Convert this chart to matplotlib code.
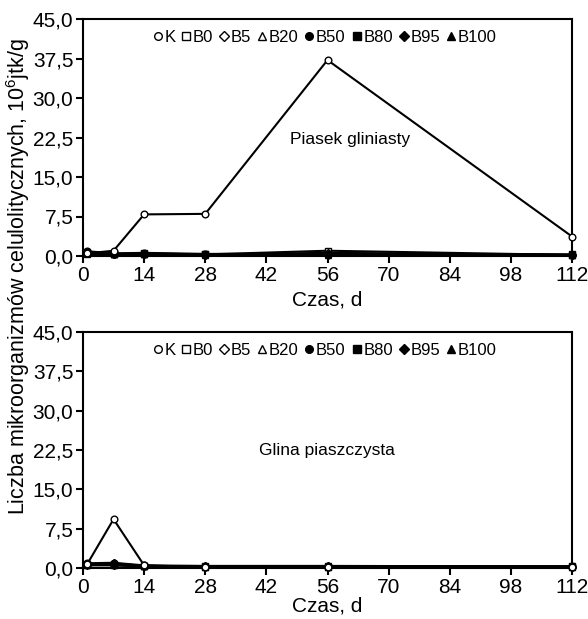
import matplotlib
matplotlib.use("Agg")
import matplotlib.pyplot as plt
from matplotlib.ticker import FuncFormatter

plt.rcParams['font.family'] = ['Liberation Sans', 'DejaVu Sans']
plt.rcParams['mathtext.fontset'] = 'custom'
plt.rcParams['mathtext.rm'] = 'Liberation Sans'

days = [1, 7, 14, 28, 56, 112]
series_names = ["K", "B0", "B5", "B20", "B50", "B80", "B95", "B100"]
markers = ["o", "s", "D", "^", "o", "s", "D", "^"]
filled = [False, False, False, False, True, True, True, True]

top_values = {
    "K":    [0.5, 1.0, 7.9, 8.0, 37.2, 3.7],
    "B0":   [0.4, 0.3, 0.4, 0.3, 1.0, 0.2],
    "B5":   [0.5, 0.3, 0.3, 0.2, 0.6, 0.2],
    "B20":  [0.6, 0.4, 0.4, 0.3, 0.5, 0.2],
    "B50":  [0.9, 0.5, 0.6, 0.4, 0.4, 0.2],
    "B80":  [0.7, 0.4, 0.5, 0.3, 0.3, 0.3],
    "B95":  [0.6, 0.3, 0.4, 0.2, 0.2, 0.2],
    "B100": [0.5, 0.3, 0.3, 0.2, 0.2, 0.2],
}
bottom_values = {
    "K":    [0.8, 9.3, 0.5, 0.2, 0.2, 0.2],
    "B0":   [0.5, 0.5, 0.3, 0.2, 0.2, 0.2],
    "B5":   [0.6, 0.6, 0.3, 0.2, 0.2, 0.2],
    "B20":  [0.7, 0.8, 0.4, 0.3, 0.3, 0.3],
    "B50":  [0.9, 1.0, 0.5, 0.4, 0.4, 0.3],
    "B80":  [0.8, 0.7, 0.4, 0.3, 0.3, 0.3],
    "B95":  [0.7, 0.9, 0.4, 0.3, 0.3, 0.2],
    "B100": [0.6, 0.6, 0.3, 0.2, 0.2, 0.2],
}
x_ticks = [0, 14, 28, 42, 56, 70, 84, 98, 112]
y_ticks = [0, 7.5, 15, 22.5, 30, 37.5, 45]
panel_labels = ["Piasek gliniasty", "Glina piaszczysta"]

fig = plt.figure(figsize=(5.88, 6.19), dpi=100)
W, H = 588, 619
ax1 = fig.add_axes([83 / W, 1 - 256 / H, (572 - 83) / W, (256 - 19) / H])
ax2 = fig.add_axes([83 / W, 1 - 568 / H, (572 - 83) / W, (568 - 332) / H])

fmt = FuncFormatter(lambda v, p: f"{v:.1f}".replace(".", ","))

label_pos = [(0.546, 0.49), (0.499, 0.50)]
label_pads = [4, 0]
for ax, data, lab, pos, lp in [(ax1, top_values, panel_labels[0], label_pos[0], label_pads[0]),
                               (ax2, bottom_values, panel_labels[1], label_pos[1], label_pads[1])]:
    handles = []
    for name, m, f in zip(series_names, markers, filled):
        ms = 4 if m == "D" else 4.8
        h, = ax.plot(days, data[name], color="black", lw=1.5, marker=m,
                     markersize=ms, markerfacecolor="black" if f else "white",
                     markeredgecolor="black", markeredgewidth=1.0, label=name,
                     clip_on=False, zorder=3 if name == "K" else 2)
        handles.append(h)
    ax.set_xlim(0, 112)
    ax.set_ylim(0, 45)
    ax.set_xticks(x_ticks)
    ax.set_yticks(y_ticks)
    ax.yaxis.set_major_formatter(fmt)
    ax.tick_params(direction="out", length=5, width=1.5, labelsize=15, pad=2)
    for s in ax.spines.values():
        s.set_linewidth(1.5)
    ax.set_xlabel("Czas, d", fontsize=15, labelpad=lp)
    ax.text(pos[0], pos[1], lab, transform=ax.transAxes,
            fontsize=12.5, ha="center", va="center")
    leg = ax.legend(handles=handles, loc="upper center", ncol=8, frameon=False,
                    fontsize=12, handlelength=0.5, handletextpad=0.15,
                    columnspacing=0.4, borderaxespad=0.25, bbox_to_anchor=(0.495, 1.0))
    for lh in leg.legend_handles:
        lh.set_linestyle("")
        lh.set_markersize(5.5)

fig.text(18 / W, 1 - 276 / H, "Liczba mikroorganizmów celulolitycznych, 10$^{6}$jtk/g",
         rotation=90, ha="center", va="center", fontsize=15.5)

fig.savefig("out.png", dpi=100)
